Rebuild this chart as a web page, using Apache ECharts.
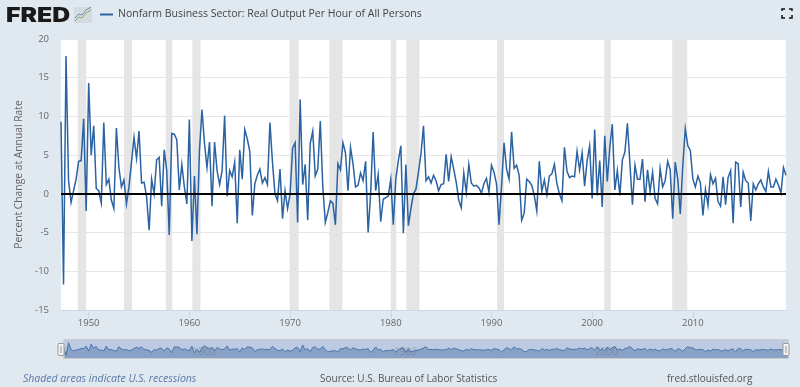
<!DOCTYPE html>
<html>
<head>
<meta charset="utf-8">
<style>
html,body{margin:0;padding:0;background:#e1e9f0}
#main{width:800px;height:387px}
</style>
<script src="https://cdn.jsdelivr.net/npm/echarts@6/dist/echarts.min.js"></script>
</head>
<body>
<div id="main"></div>
<script>
var seriesName = 'Nonfarm Business Sector: Real Output Per Hour of All Persons';
var yAxisTitle = 'Percent Change at Annual Rate';
var firstQuarter = 1947.25;
var yearTicks = [1950, 1960, 1970, 1980, 1990, 2000, 2010];
var navYears = [1960, 1980, 2000];

// quarterly values, starting 1947 Q2
var values = [
  9.3, -11.7, 17.8, 1.7, -1.1, 0.4, 1.9, 4.2, 4.3, 9.7, -2.2, 14.3, 5.0, 8.8, 0.7, 0.4, -1.2, 9.2, 1.2, 1.9,
  -0.8, -1.9, 8.5, 3.4, 0.9, 1.8, -1.3, 0.9, 4.1, 7.3, 4.6, 8.1, 1.4, 1.5, -0.4, -4.7, 1.9, 0.0, 4.4, 4.7,
  -1.6, 5.7, 3.0, -5.3, 7.8, 7.7, 7.0, 0.5, 3.8, 0.9, -1.3, 9.6, -6.1, 2.3, -5.2, 5.6, 10.9, 6.5, 3.4, 6.7,
  -1.6, 6.7, 3.0, 1.2, 3.0, 10.1, -0.3, 3.0, 2.2, 4.1, -3.8, 5.7, 1.9, 8.3, 7.1, 5.5, -2.8, 1.3, 2.4, 3.2,
  1.4, 2.1, 1.2, 9.2, 4.1, 0.0, -0.9, 3.2, -3.2, 0.4, -1.9, 0.0, 5.9, 6.6, -3.7, 12.2, 1.2, 3.8, -3.4, 6.5,
  8.1, 2.3, 3.2, 9.4, 0.9, -3.7, -2.4, -0.9, -1.2, -4.0, 3.9, 3.1, 6.6, 5.3, 0.4, 6.0, 3.9, 0.9, 1.1, 2.7,
  1.7, 4.2, -5.0, 0.0, 8.0, 0.4, 2.5, -3.6, -0.7, -0.5, -0.3, 1.9, -4.0, 1.9, 4.3, 6.2, -5.1, 3.8, -4.1, -1.9,
  0.0, 0.6, 2.8, 5.2, 8.8, 1.7, 2.2, 1.4, 2.4, 1.7, 0.4, 1.2, 1.3, 5.1, 1.6, 4.8, 3.2, 1.5, -0.8, -1.8,
  2.7, 0.2, 3.8, 1.4, 1.0, 1.1, 0.8, 0.1, 1.3, 2.0, 0.2, 3.7, 2.8, 1.3, -4.0, 1.0, 6.6, 3.2, 1.9, 8.0,
  3.3, 3.7, 2.4, -3.4, -2.5, 1.9, 1.6, 1.1, -0.2, -2.2, 4.2, 0.3, 1.8, -0.1, 2.3, 2.6, 3.8, 1.3, 0.0, -0.9,
  6.0, 2.9, 2.1, 2.3, 2.2, 5.5, 3.1, 5.3, 1.0, 4.3, 6.2, -0.6, 8.3, -0.2, 4.3, -1.7, 7.5, 1.6, 6.0, 9.0,
  0.5, 3.0, -0.2, 4.4, 5.4, 9.1, 3.9, -1.4, 3.7, 1.9, 1.9, 4.5, -1.0, 3.1, 0.3, 2.8, -0.6, -1.3, 3.3, 0.9,
  1.7, 4.2, 3.1, -3.2, 4.1, 1.9, -2.6, 3.7, 8.4, 6.2, 5.6, 1.9, 0.9, 2.3, 1.4, -2.8, 0.6, -1.5, 2.5, 1.3,
  2.0, -1.0, -1.6, 2.2, -1.4, 2.1, 3.0, -3.8, 4.1, 3.9, -1.7, 2.8, 1.7, 1.4, -3.5, 1.3, 0.5, 1.3, 1.8, 0.9,
  0.3, 2.9, 0.9, 0.9, 1.9, 1.1, 0.1, 3.4, 2.4
];

// shaded recessions, decimal years
var recessions = [
  [1948.9, 1949.75], [1953.5, 1954.3], [1957.65, 1958.3], [1960.3, 1961.1],
  [1969.95, 1970.85], [1973.9, 1975.2], [1980.0, 1980.55], [1981.55, 1982.85],
  [1990.55, 1991.25], [2001.2, 2001.85], [2007.95, 2009.45]
];

var points = values.map(function (v, i) {
  return [firstQuarter + i * 0.25, v];
});

var chart = echarts.init(document.getElementById('main'), null, { renderer: 'canvas' });

var font = '"Open Sans", sans-serif';
var gridLeft = 61, gridRight = 14, gridTop = 39, gridHeight = 271;

// little brackets of the full screen button
function cornerIcon(pts) {
  return { type: 'polyline', shape: { points: pts }, style: { stroke: '#111', lineWidth: 1.5, fill: null } };
}

// navigator grip, the slider's own handle sits too far inside
function navHandle(x) {
  return [
    { type: 'rect', z: 101, shape: { x: x, y: 343.5, width: 6, height: 12, r: 1 }, style: { fill: '#f2f2f2', stroke: '#999', lineWidth: 1 } },
    { type: 'rect', z: 102, shape: { x: x + 2, y: 346, width: 2, height: 7 }, style: { fill: '#c4c4c4' } }
  ];
}

var graphics = [
  { type: 'text', x: 6, y: 6, scaleX: 1.24, style: { text: 'FRED', fill: '#1a1a1a', font: '900 20px Inter, sans-serif' } },
  { type: 'rect', shape: { x: 74, y: 7, width: 18, height: 16 }, style: { fill: '#d4dbe0' } },
  { type: 'polyline', shape: { points: [[75, 21], [79, 17], [82, 18], [86, 13], [91, 10]] }, style: { stroke: '#8fa86e', lineWidth: 1, fill: null } },
  { type: 'polyline', shape: { points: [[75, 18], [79, 14], [82, 15], [86, 10], [91, 7]] }, style: { stroke: '#6f8fb8', lineWidth: 1, fill: null } },
  cornerIcon([[782, 11], [782, 9], [785, 9]]),
  cornerIcon([[789, 9], [792, 9], [792, 11]]),
  cornerIcon([[782, 15], [782, 18], [785, 18]]),
  cornerIcon([[789, 18], [792, 18], [792, 15]]),
  { type: 'text', x: 23, y: 374, style: { text: 'Shaded areas indicate U.S. recessions', fill: '#5a78a8', font: 'italic 10.5px "Open Sans", sans-serif' } },
  { type: 'text', x: 320, y: 374, style: { text: 'Source: U.S. Bureau of Labor Statistics', fill: '#555', font: '10px "Open Sans", sans-serif' } },
  { type: 'text', x: 667, y: 374, style: { text: 'fred.stlouisfed.org', fill: '#555', font: '10px "Open Sans", sans-serif' } }
].concat(navHandle(58), navHandle(783));

var option = {
  animation: false,
  backgroundColor: '#e1e9f0',
  textStyle: { fontFamily: font },
  legend: {
    left: 95,
    top: 4,
    icon: 'rect',
    itemWidth: 13,
    itemHeight: 2,
    itemGap: 0,
    selectedMode: false,
    data: [seriesName],
    textStyle: { color: '#444', fontSize: 10.5, fontFamily: font }
  },
  grid: {
    left: gridLeft, right: gridRight, top: gridTop, height: gridHeight,
    show: true, backgroundColor: '#fff', borderWidth: 0
  },
  xAxis: {
    type: 'value',
    min: firstQuarter,
    max: firstQuarter + (values.length - 1) * 0.25,
    axisLine: { show: true, onZero: false, lineStyle: { color: '#ccd6eb' } },
    axisTick: { show: true, length: 8, customValues: yearTicks, lineStyle: { color: '#ccd6eb' } },
    axisLabel: {
      customValues: yearTicks,
      color: '#666', fontSize: 9.5, margin: 8, fontFamily: font,
      formatter: function (v) { return String(v); }
    },
    splitLine: { show: false }
  },
  yAxis: {
    type: 'value',
    min: -15, max: 20, interval: 5,
    name: yAxisTitle,
    nameLocation: 'middle',
    nameGap: 37,
    nameTextStyle: { color: '#666', fontSize: 10.3, fontFamily: font },
    axisLine: { show: false },
    axisTick: { show: false },
    axisLabel: { color: '#666', fontSize: 9.5, margin: 12, fontFamily: font },
    splitLine: { show: true, lineStyle: { color: '#e6e6e6', width: 1 } }
  },
  dataZoom: [{
    type: 'slider',
    xAxisIndex: 0,
    filterMode: 'none',
    left: gridLeft, right: gridRight, top: 339, height: 20,
    start: 0, end: 100,
    backgroundColor: '#bccbe2',
    fillerColor: 'rgba(0,0,0,0)',
    borderColor: '#ccc',
    borderRadius: 0,
    showDetail: false,
    brushSelect: false,
    moveHandleSize: 0,
    handleSize: 0,
    handleStyle: { opacity: 0 },
    dataBackground: {
      lineStyle: { color: '#4a73ab', width: 1, opacity: 1 },
      areaStyle: { color: '#88a1c6', opacity: 1 }
    },
    selectedDataBackground: {
      lineStyle: { color: '#4a73ab', width: 1, opacity: 1 },
      areaStyle: { color: '#88a1c6', opacity: 1 }
    }
  }],
  series: [{
    name: seriesName,
    type: 'line',
    data: points,
    showSymbol: false,
    symbol: 'none',
    z: 3,
    itemStyle: { color: '#2a62a3' },
    lineStyle: { color: '#2a62a3', width: 1.5, join: 'miter' },
    markArea: {
      silent: true,
      z: 1,
      itemStyle: { color: '#e5e5e5' },
      data: recessions.map(function (r) {
        return [{ xAxis: r[0] }, { xAxis: r[1] }];
      })
    },
    markLine: {
      silent: true,
      symbol: 'none',
      label: { show: false },
      lineStyle: { color: '#000', width: 2, type: 'solid' },
      data: [{ yAxis: 0 }]
    }
  }],
  graphic: graphics
};

chart.setOption(option);

// faint year labels inside the navigator
var navLabels = navYears.map(function (y) {
  return {
    type: 'text',
    x: chart.convertToPixel({ xAxisIndex: 0 }, y) + 3,
    y: 347,
    z: 100,
    style: { text: String(y), fill: 'rgba(102,102,102,0.35)', font: '10px "Open Sans", sans-serif' }
  };
});
chart.setOption({ graphic: graphics.concat(navLabels) });
</script>
</body>
</html>
